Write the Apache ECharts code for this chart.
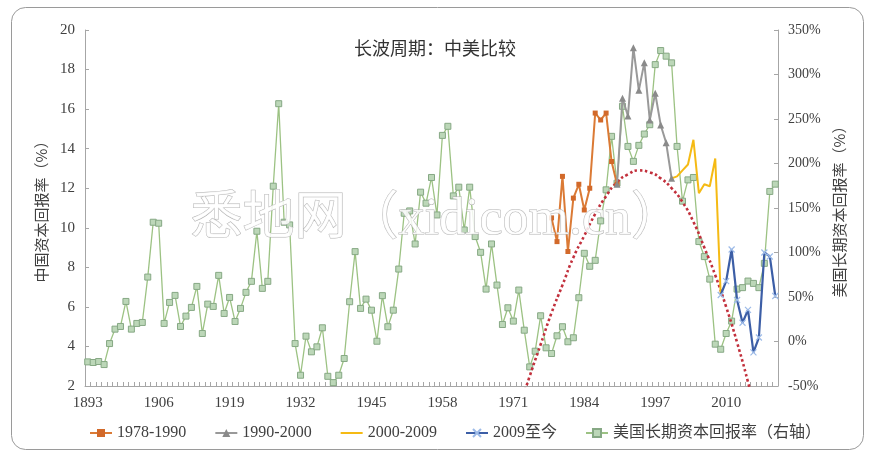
<!DOCTYPE html>
<html>
<head>
<meta charset="utf-8">
<script src="https://cdn.jsdelivr.net/npm/echarts@6/dist/echarts.min.js"></script>
<style>html,body{margin:0;padding:0;background:#fff;}#c{width:870px;height:456px;}</style>
</head>
<body>
<div id="c"></div>
<script>
// ---------- DATA ----------
var years = ['1893','1894','1895','1896','1897','1898','1899','1900','1901','1902','1903','1904','1905','1906','1907','1908','1909','1910','1911','1912','1913','1914','1915','1916','1917','1918','1919','1920','1921','1922','1923','1924','1925','1926','1927','1928','1929','1930','1931','1932','1933','1934','1935','1936','1937','1938','1939','1940','1941','1942','1943','1944','1945','1946','1947','1948','1949','1950','1951','1952','1953','1954','1955','1956','1957','1958','1959','1960','1961','1962','1963','1964','1965','1966','1967','1968','1969','1970','1971','1972','1973','1974','1975','1976','1977','1978','1979','1980','1981','1982','1983','1984','1985','1986','1987','1988','1989','1990','1991','1992','1993','1994','1995','1996','1997','1998','1999','2000','2001','2002','2003','2004','2005','2006','2007','2008','2009','2010','2011','2012','2013','2014','2015','2016','2017','2018','2019'];

// US long-term return on capital (%, right axis), 1893-2019
var usReturn = [-22.9,-23.6,-22.5,-25.9,-2.3,13.9,16.9,45.0,13.9,20.3,
  21.4,72.4,134.0,132.9,20.3,43.9,51.8,16.9,28.5,38.3,
  61.9,9.0,42.0,39.4,74.3,31.5,49.5,22.5,37.2,55.2,
  67.6,123.9,59.7,67.6,174.5,267.2,134.0,131.0,-2.3,-37.9,
  6.0,-11.6,-6.0,15.4,-39.1,-46.2,-37.9,-19.1,44.7,101.0,
  37.2,47.6,35.2,0.3,51.5,16.6,35.2,81.4,144.1,146.7,
  109.6,167.8,155.4,184.3,142.2,231.6,241.8,163.6,173.4,125.3,
  173.4,117.9,100.2,58.9,109.6,63.4,19.1,37.9,22.9,57.8,
  12.7,-28.5,-10.9,28.9,-7.1,-13.5,6.4,16.6,-0.3,4.2,
  49.2,99.1,84.5,91.2,135.5,170.4,230.5,177.9,264.3,219.2,
  202.4,220.4,233.1,243.6,311.1,326.9,320.6,313.1,219.2,157.7,
  181.6,184.3,112.3,95.4,70.1,-3.0,-8.7,9.0,22.9,58.9,
  60.5,67.9,65.3,60.5,87.8,168.6,176.8];

// China return on capital (%, left axis)
var cn7890Years = ['1978','1979','1980','1981','1982','1983','1984','1985','1986','1987','1988','1989','1990'];
var cn7890 = [10.5,9.3,12.6,8.8,11.5,12.2,10.9,12.0,15.8,15.45,15.8,13.35,12.2];

var cn9000Years = ['1990','1991','1992','1993','1994','1995','1996','1997','1998','1999','2000'];
var cn9000 = [12.2,16.55,15.65,19.1,16.95,18.35,15.45,16.8,15.2,14.3,12.5];

var cn0009Years = ['2000','2001','2002','2003','2004','2005','2006','2007','2008','2009'];
var cn0009 = [12.5,12.6,12.9,13.2,14.45,11.75,12.2,12.1,13.5,6.6];

var cn09Years = ['2009','2010','2011','2012','2013','2014','2015','2016','2017','2018','2019'];
var cn09 = [6.6,7.3,8.9,6.35,5.2,5.85,3.7,4.45,8.75,8.55,6.55];

// dotted long-wave curve (left axis)
var waveYears = ['1972','1974','1976','1978','1980','1982','1984','1986','1988','1990','1992','1994','1996','1998','2000','2002','2004','2006','2008','2010','2012','2014','2016'];
var waveVals = [0.8,2.5,4.1,5.7,7.1,8.5,9.6,10.7,11.6,12.3,12.7,12.9,12.8,12.5,12.0,11.3,10.3,9.0,7.6,6.0,4.2,2.2,0.0];

var leftTicks = {min: 2, max: 20, step: 2};
var rightTicks = {min: -50, max: 350, step: 50};

// ---------- CHART ----------
function pairs(ks, vs){ return ks.map(function(k,i){ return [k, vs[i]]; }); }
var serif = 'Liberation Serif, Noto Sans CJK SC';
var cjk = 'Noto Sans CJK SC';
var axisGray = '#A6A6A6';
var xMark = 'path://M0,0L10,10M10,0L0,10';

var chart = echarts.init(document.getElementById('c'), null, {renderer: 'canvas'});
chart.setOption({
  animation: false,
  backgroundColor: '#fff',
  title: {
    text: '长波周期：中美比较', left: 'center', top: 34,
    textStyle: {fontFamily: cjk, fontSize: 18, fontWeight: 'normal', color: '#333'}
  },
  graphic: [
    {type: 'rect', left: 9, top: 5, z: -10, silent: true,
     shape: {width: 852, height: 442, r: 14},
     style: {fill: 'none', stroke: '#9a9a9a', lineWidth: 1}},
    {type: 'text', left: 190, top: 194, z: 100, silent: true,
     style: {text: '悉地网（xidicom.cn）', font: '52px "Liberation Serif", "Noto Sans CJK SC"',
             fill: 'rgba(255,255,255,0.85)', stroke: '#b4b4b4', lineWidth: 1}}
  ],
  legend: {
    bottom: 10, left: 84, itemGap: 28, itemWidth: 22, itemHeight: 10,
    textStyle: {fontFamily: serif, fontSize: 16, color: '#404040'},
    data: ['1978-1990','1990-2000',{name: '2000-2009', itemStyle: {opacity: 0}},'2009至今','美国长期资本回报率（右轴）']
  },
  grid: {left: 85, right: 92, top: 30, bottom: 70, containLabel: false},
  xAxis: {
    type: 'category', data: years, boundaryGap: true,
    axisLine: {onZero: false, lineStyle: {color: axisGray}},
    axisTick: {show: true, inside: true, length: 4, interval: 0, lineStyle: {color: axisGray}},
    axisLabel: {interval: 12, color: '#404040', fontFamily: serif, fontSize: 15, margin: 10},
    splitLine: {show: false}
  },
  yAxis: [
    {type: 'value', min: leftTicks.min, max: leftTicks.max, interval: leftTicks.step,
     name: '中国资本回报率（%）', nameLocation: 'middle', nameGap: 36, nameRotate: 90,
     nameTextStyle: {fontFamily: cjk, fontSize: 15, color: '#404040'},
     axisLine: {show: true, lineStyle: {color: axisGray}},
     axisTick: {show: true, inside: true, length: 4, lineStyle: {color: axisGray}},
     axisLabel: {color: '#404040', fontFamily: serif, fontSize: 15, margin: 10},
     splitLine: {show: false}},
    {type: 'value', min: rightTicks.min, max: rightTicks.max, interval: rightTicks.step,
     name: '美国长期资本回报率（%）', nameLocation: 'middle', nameGap: 54, nameRotate: 90,
     nameTextStyle: {fontFamily: cjk, fontSize: 15, color: '#404040'},
     axisLine: {show: true, lineStyle: {color: axisGray}},
     axisTick: {show: true, inside: true, length: 4, lineStyle: {color: axisGray}},
     axisLabel: {color: '#404040', fontFamily: serif, fontSize: 14, margin: 10, formatter: '{value}%'},
     splitLine: {show: false}}
  ],
  series: [
    {name: '美国长期资本回报率（右轴）', type: 'line', yAxisIndex: 1, data: usReturn, z: 2,
     symbol: 'rect', symbolSize: 6, showAllSymbol: true,
     lineStyle: {color: '#9CC283', width: 1.3},
     itemStyle: {color: '#BCD7B8', borderColor: '#86A884', borderWidth: 1}},
    {name: 'wave', type: 'line', yAxisIndex: 0, data: pairs(waveYears, waveVals), z: 3,
     smooth: 0.6, symbol: 'none', clip: true,
     lineStyle: {color: '#C2303C', width: 2.6, type: 'dotted'}},
    {name: '1978-1990', type: 'line', yAxisIndex: 0, data: pairs(cn7890Years, cn7890), z: 4,
     symbol: 'rect', symbolSize: 5, showAllSymbol: true,
     lineStyle: {color: '#DB7A35', width: 2},
     itemStyle: {color: '#D2692A'}},
    {name: '1990-2000', type: 'line', yAxisIndex: 0, data: pairs(cn9000Years, cn9000), z: 4,
     symbol: 'triangle', symbolSize: 7, showAllSymbol: true,
     lineStyle: {color: '#999999', width: 2},
     itemStyle: {color: '#8A8A8A'}},
    {name: '2000-2009', type: 'line', yAxisIndex: 0, data: pairs(cn0009Years, cn0009), z: 4,
     symbol: 'none',
     lineStyle: {color: '#F5BA14', width: 2},
     itemStyle: {color: '#F5BA14'}},
    {name: '2009至今', type: 'line', yAxisIndex: 0, data: pairs(cn09Years, cn09), z: 4,
     symbol: xMark, symbolSize: 6, showAllSymbol: true,
     lineStyle: {color: '#3C5EA6', width: 2.2},
     itemStyle: {color: '#3C5EA6', borderColor: '#9DBBE8', borderWidth: 1.2}}
  ]
});
</script>
</body>
</html>
